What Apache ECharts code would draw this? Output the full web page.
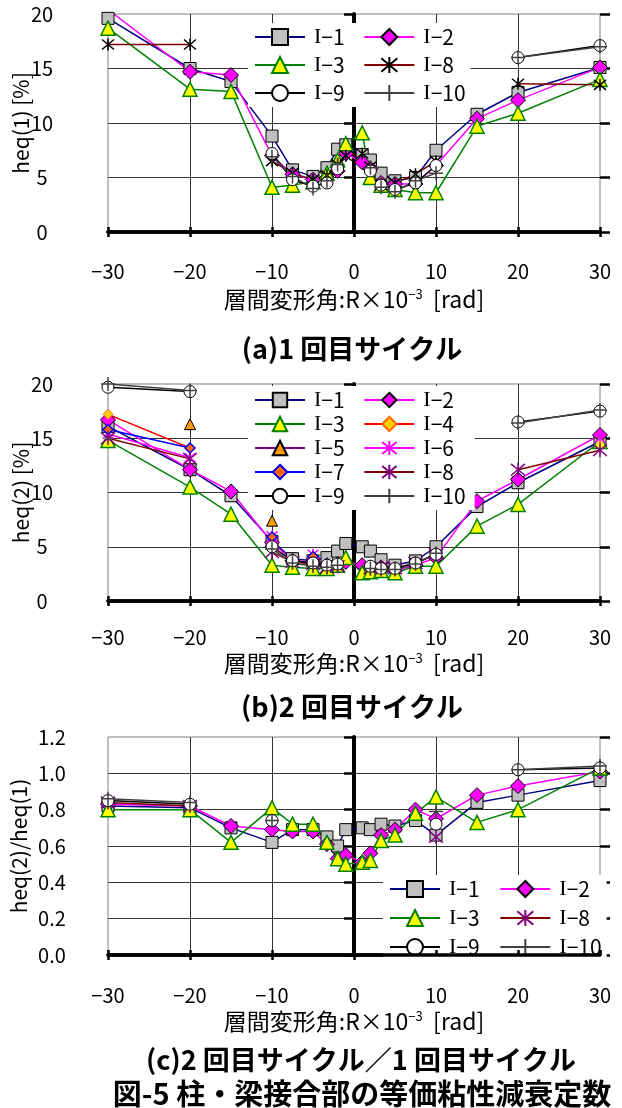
<!DOCTYPE html>
<html>
<head>
<meta charset="utf-8">
<script src="https://cdn.jsdelivr.net/npm/echarts@6/dist/echarts.min.js"></script>
<style>
html,body{margin:0;padding:0;background:#fff;}
#chart{width:622px;height:1108px;}
</style>
</head>
<body>
<div id="chart"></div>
<script>
// Story drift angle R (x10^-3 rad) at which each value was measured
const rotations = [-30, -20, -15, -10, -7.5, -5, -3.3, -2, -1, 1, 2, 3.3, 5, 7.5, 10, 15, 20, 30];

// (a) heq(1) [%] : first cycle
const heq1_I1  = [19.6, 15.0, 13.8, 8.8, 5.7, 5.1, 5.9, 7.6, 8.0, 7.1, 6.6, 5.4, 4.7, 5.0, 7.5, 10.8, 12.8, 15.1];
const heq1_I2  = [20.4, 14.7, 14.4, 7.0, 5.3, 4.8, 5.0, 5.6, 7.2, 6.4, 5.8, 4.5, 4.4, 4.4, 6.1, 10.4, 12.1, 15.1];
const heq1_I3  = [18.7, 13.1, 12.9, 4.1, 4.3, 4.6, 5.4, 6.6, 8.1, 9.1, 5.0, 4.3, 3.9, 3.6, 3.6, 9.7, 10.9, 14.0];
const heq1_I8  = [17.2, 17.2, null, 6.5, 5.4, 4.8, 5.2, 6.2, 7.0, 7.2, 6.0, 4.3, 4.5, 5.3, 6.5, null, 13.6, 13.5];
const heq1_I9  = [null, null, null, 7.2, 4.8, 4.2, 4.5, 5.8, null, null, 5.6, 4.3, 3.9, 4.5, 6.1, null, 16.0, 17.1];
const heq1_I10 = [null, null, null, 6.9, 5.1, 4.0, 4.7, 6.2, null, null, 5.9, 4.1, 3.7, 4.7, 5.4, null, 16.0, 17.0];

// (b) heq(2) [%] : second cycle
const heq2_I1  = [16.1, 12.1, 9.7, 5.5, 3.9, 3.7, 4.0, 4.6, 5.3, 5.0, 4.6, 3.8, 3.3, 3.7, 5.0, 8.7, 10.9, 14.7];
const heq2_I2  = [16.7, 12.1, 10.1, 5.4, 3.7, 3.6, 3.3, 3.4, 3.6, 3.3, 3.1, 3.1, 2.8, 3.3, 4.0, 9.2, 11.2, 15.3];
const heq2_I3  = [14.8, 10.5, 8.0, 3.3, 3.1, 3.0, 3.0, 3.3, 4.0, 2.6, 2.7, 2.8, 2.6, 3.2, 3.2, 6.9, 8.9, 14.7];
const heq2_I4  = [17.2, 14.1, null, null, null, null, null, null, null, null, null, null, null, null, null, null, null, null];
const heq2_I5  = [null, 16.3, null, 7.4, null, 3.9, null, null, null, null, null, null, null, null, null, null, null, null];
const heq2_I6  = [15.4, 13.2, null, 6.0, null, 4.3, null, null, null, null, null, null, null, null, null, null, null, 15.0];
const heq2_I7  = [15.8, 14.1, null, 5.9, null, 4.1, null, null, null, null, null, null, null, null, null, null, null, null];
const heq2_I8  = [15.0, 13.1, null, 4.5, 3.6, 3.4, 3.1, 3.2, null, null, 3.0, 3.1, 3.0, 3.5, 4.3, null, 12.1, 13.9];
const heq2_I9  = [19.7, 19.3, null, 5.0, 3.7, 3.5, 3.3, 3.4, null, null, 3.2, 3.0, 3.0, 3.5, 4.3, null, 16.5, 17.5];
const heq2_I10 = [20.0, 19.4, null, 4.8, 3.5, 3.2, 3.1, 3.3, null, null, 3.0, 2.9, 2.9, 3.4, 4.4, null, 16.4, 17.6];

// (c) heq(2)/heq(1)
const ratio_I1  = [0.82, 0.81, 0.70, 0.62, 0.69, 0.69, 0.65, 0.60, 0.69, 0.70, 0.69, 0.72, 0.71, 0.74, 0.66, 0.84, 0.88, 0.96];
const ratio_I2  = [0.83, 0.82, 0.71, 0.69, 0.68, 0.68, 0.61, 0.53, 0.55, 0.51, 0.56, 0.66, 0.69, 0.80, 0.75, 0.88, 0.93, 1.01];
const ratio_I3  = [0.80, 0.80, 0.62, 0.81, 0.72, 0.72, 0.62, 0.53, 0.50, 0.51, 0.52, 0.63, 0.66, 0.78, 0.87, 0.73, 0.80, 1.03];
const ratio_I8  = [0.84, 0.82, null, null, null, null, null, null, null, null, null, null, null, null, 0.65, null, null, null];
const ratio_I9  = [0.85, 0.83, null, 0.74, null, null, null, null, null, null, null, null, null, null, 0.72, null, 1.02, 1.03];
const ratio_I10 = [0.86, 0.84, null, 0.74, null, null, null, null, null, null, null, null, null, null, 0.79, null, 1.02, 1.04];

const FONT = '"Noto Sans CJK JP", "Noto Sans", sans-serif';
const SERIF = '"Liberation Serif", "DejaVu Serif", serif';
const ASTER = 'path://M0,0L10,10M10,0L0,10M5,-1L5,11';
const PLUS = 'path://M0,5L10,5M5,0L5,10';

// Marker / line appearance of each specimen
function look(name, panel) {
  const m = {
    'I-1':  {symbol: 'rect', size: 12, fill: '#c0c0c0', stroke: '#000', bw: 1, line: '#000080'},
    'I-2':  {symbol: 'diamond', size: 15, fill: '#ff00ff', stroke: '#000', bw: 1, line: '#ff00ff'},
    'I-3':  {symbol: 'triangle', size: 14, fill: '#ffff00', stroke: '#008000', bw: 1.5, line: '#008000'},
    'I-4':  {symbol: 'diamond', size: 10, fill: '#ffcc00', stroke: '#ff6600', bw: 1, line: '#ff0000'},
    'I-5':  {symbol: 'triangle', size: 11, fill: '#ff9900', stroke: '#000', bw: 1, line: '#800080'},
    'I-6':  {symbol: ASTER, size: 11, fill: '#ff00ff', stroke: '#ff00ff', bw: 1.5, line: '#ff00ff'},
    'I-7':  {symbol: 'diamond', size: 10, fill: '#ff6600', stroke: '#0000ff', bw: 1.5, line: '#0000ff'},
    'I-8':  {symbol: ASTER, size: 12, fill: '#000', stroke: '#000', bw: 1.5, line: '#800000'},
    'I-9':  {symbol: 'circle', size: 12, fill: '#fff', stroke: '#000', bw: 1, line: '#000'},
    'I-10': {symbol: PLUS, size: 14, fill: '#404040', stroke: '#404040', bw: 1.5, line: '#404040'}
  }[name];
  if (name === 'I-8' && panel !== 'a') { m.fill = '#800080'; m.stroke = '#800080'; m.size = 14; }
  return m;
}

const panelSeries = [
  {key: 'a', sets: [['I-1', heq1_I1], ['I-2', heq1_I2], ['I-3', heq1_I3], ['I-8', heq1_I8], ['I-9', heq1_I9], ['I-10', heq1_I10]]},
  {key: 'b', sets: [['I-1', heq2_I1], ['I-2', heq2_I2], ['I-3', heq2_I3], ['I-4', heq2_I4], ['I-5', heq2_I5],
                    ['I-6', heq2_I6], ['I-7', heq2_I7], ['I-8', heq2_I8], ['I-9', heq2_I9], ['I-10', heq2_I10]]},
  {key: 'c', sets: [['I-1', ratio_I1], ['I-2', ratio_I2], ['I-3', ratio_I3], ['I-8', ratio_I8], ['I-9', ratio_I9], ['I-10', ratio_I10]]}
];

// Layout of the three panels
const layout = [
  {top: 14, height: 218, min: 0, max: 20, step: 5, dec: 0, yName: 'heq(1) [%]', labMargin: 66, yNameGap: 76,
   xMargin: 29, xNameGap: 56, legend: {left: 248, top: 23, itemHeight: 20, itemGap: 6, textW: 36}},
  {top: 384, height: 217, min: 0, max: 20, step: 5, dec: 0, yName: 'heq(2) [%]', labMargin: 66, yNameGap: 76,
   xMargin: 26, xNameGap: 51, legend: {left: 248, top: 386, itemHeight: 18, itemGap: 2, textW: 40}},
  {top: 737, height: 218, min: 0, max: 1.2, step: 0.2, dec: 1, yName: 'heq(2)/heq(1)', labMargin: 56, yNameGap: 78,
   xMargin: 30, xNameGap: 55, legend: {left: 383, top: 875, itemHeight: 20, itemGap: 7, textW: 36}}
];

const fmtX = v => String(v).replace('-', '\u2212');

const grid = [], xAxis = [], yAxis = [], legend = [], series = [];

layout.forEach((L, p) => {
  const g = {left: 108, width: 492, top: L.top, height: L.height};
  grid.push(Object.assign({show: true, borderColor: '#808080', borderWidth: 1}, g));
  grid.push(Object.assign({show: false}, g));

  xAxis.push({
    gridIndex: 2 * p, type: 'value', min: -30, max: 30, interval: 10,
    axisLine: {show: true, onZero: true, lineStyle: {color: '#000', width: 3.5}},
    axisTick: {show: true, length: 5, lineStyle: {color: '#000', width: 2.5}},
    axisLabel: {margin: L.xMargin, fontSize: 20, color: '#000', fontFamily: FONT, formatter: fmtX},
    splitLine: {show: true, showMinLine: false, showMaxLine: false, lineStyle: {color: '#333', width: 1}},
    name: '層間変形角:R×10{sup|\u22123}  [rad]', nameLocation: 'middle', nameGap: L.xNameGap,
    nameMoveOverlap: false,
    nameTextStyle: {fontSize: 23, color: '#000', fontFamily: FONT,
      rich: {sup: {fontSize: 13, color: '#000', fontFamily: FONT, verticalAlign: 'top', padding: [0, 0, 9, 0]}}}
  });
  // inner half of the crossing ticks; also redraws the R axis line above the legend box
  xAxis.push({
    gridIndex: 2 * p + 1, type: 'value', min: -30, max: 30, interval: 10, z: 6,
    axisLine: {show: true, lineStyle: {color: '#000', width: 3.5}},
    axisTick: {show: true, inside: true, length: 5, lineStyle: {color: '#000', width: 2.5}},
    axisLabel: {show: false}, splitLine: {show: false}
  });

  yAxis.push({
    gridIndex: 2 * p, type: 'value', min: L.min, max: L.max, interval: L.step,
    axisLine: {show: false, onZero: false}, axisTick: {show: false},
    axisLabel: {margin: L.labMargin, align: 'center', fontSize: 20, color: '#000', fontFamily: FONT,
      formatter: v => v.toFixed(L.dec)},
    splitLine: {show: true, showMinLine: false, showMaxLine: false, lineStyle: {color: '#333', width: 1}},
    name: L.yName, nameLocation: 'middle', nameGap: L.yNameGap, nameRotate: 90, nameMoveOverlap: false,
    nameTextStyle: {fontSize: 21, color: '#000', fontFamily: FONT}
  });
  // vertical axis through R = 0 with ticks crossing it
  yAxis.push({
    gridIndex: 2 * p + 1, type: 'value', position: 'left', min: L.min, max: L.max, interval: L.step,
    axisLine: {show: true, onZero: true, lineStyle: {color: '#000', width: 4}},
    axisTick: {show: true, length: 10, lineStyle: {color: '#000', width: 2.5}},
    axisLabel: {show: false}, splitLine: {show: false}
  });
  yAxis.push({
    gridIndex: 2 * p + 1, type: 'value', position: 'right', min: L.min, max: L.max, interval: L.step,
    axisLine: {show: false, onZero: true},
    axisTick: {show: true, length: 10, lineStyle: {color: '#000', width: 2.5}},
    axisLabel: {show: false}, splitLine: {show: false}
  });

  const P = panelSeries[p];
  P.sets.forEach(([name, vals]) => {
    const s = look(name, P.key);
    series.push({
      name: P.key + ':' + name, type: 'line',
      xAxisIndex: 2 * p, yAxisIndex: 3 * p,
      data: rotations.map((r, i) => [r, vals[i]]),
      connectNulls: false, clip: true,
      symbol: s.symbol, symbolSize: s.size,
      itemStyle: {color: s.fill, borderColor: s.stroke, borderWidth: s.bw},
      lineStyle: {color: s.line, width: 1.5},
      emphasis: {disabled: true}
    });
  });

  const lh = L.legend.itemHeight;
  legend.push({
    left: L.legend.left, top: L.legend.top, width: 218, orient: 'horizontal',
    itemWidth: 50, itemHeight: lh, itemGap: L.legend.itemGap,
    padding: [3, 4, 3, 6], backgroundColor: '#fff', selectedMode: false,
    data: P.sets.map(([name]) => P.key + ':' + name),
    formatter: n => '{s|I}{t|\u2212' + n.slice(4) + '}',
    textStyle: {fontSize: 21, lineHeight: lh, color: '#000', fontFamily: FONT, padding: [0, 0, 0, 4],
      rich: {
        s: {fontSize: 22, lineHeight: lh, fontFamily: SERIF, color: '#000'},
        t: {fontSize: 21, lineHeight: lh, fontFamily: FONT, color: '#000', width: L.legend.textW}
      }}
  });
});

const titleStyle = {fontSize: 27, fontWeight: 'bold', color: '#000', fontFamily: FONT};
const title = [
  {text: '(a)1 回目サイクル', left: 347, top: 330, textAlign: 'center', textStyle: titleStyle},
  {text: '(b)2 回目サイクル', left: 347, top: 688, textAlign: 'center', textStyle: titleStyle},
  {text: '(c)2 回目サイクル／1 回目サイクル', left: 356, top: 1041, textAlign: 'center', textStyle: titleStyle},
  {text: '図-5 柱・梁接合部の等価粘性減衰定数', left: 357, top: 1074, textAlign: 'center',
   textStyle: {fontSize: 29, fontWeight: 'bold', color: '#000', fontFamily: FONT}}
];

const chart = echarts.init(document.getElementById('chart'), null, {renderer: 'canvas'});
chart.setOption({
  animation: false,
  backgroundColor: '#fff',
  textStyle: {fontFamily: FONT},
  grid, xAxis, yAxis, legend, title, series
});
</script>
</body>
</html>
